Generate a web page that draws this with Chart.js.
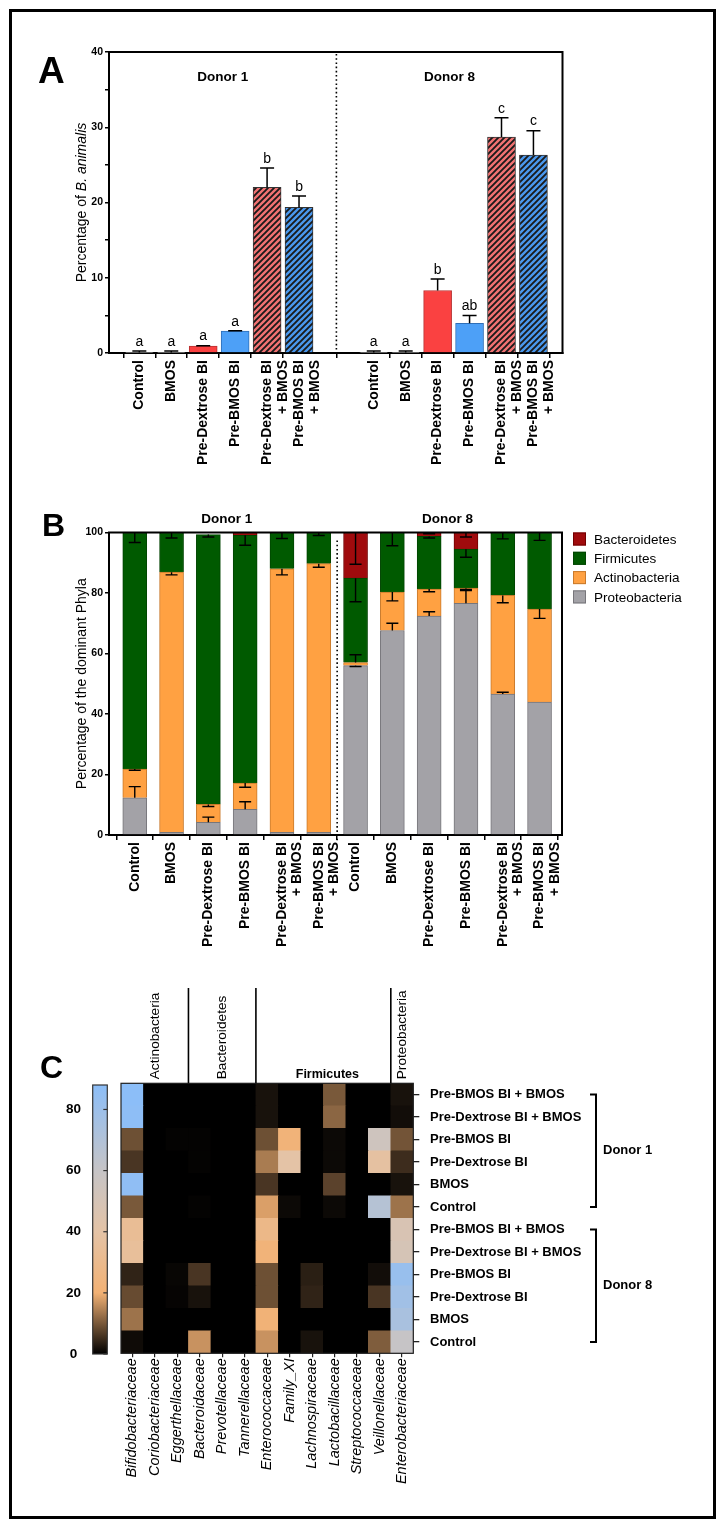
<!DOCTYPE html>
<html>
<head>
<meta charset="utf-8">
<title>B. animalis and dominant phyla</title>
<script src="https://cdn.jsdelivr.net/npm/chart.js@4.4.1/dist/chart.umd.min.js"></script>
<style>
  body { margin: 0; background: #fff; }
  #page { position: relative; width: 725px; height: 1530px; overflow: hidden; }
  #frame { position: absolute; left: 9px; top: 9px; width: 707px; height: 1510px; border: 3px solid #000; box-sizing: border-box; }
  canvas { position: absolute; left: 0; }
  .panel { position: absolute; font: bold 32px "Liberation Sans", Arial, sans-serif; line-height: 1; }
</style>
</head>
<body>
<div id="page">
  <div id="frame"></div>
  <canvas id="chartA" width="725" height="480" style="top:0"></canvas>
  <canvas id="chartB" width="725" height="500" style="top:480px"></canvas>
  <canvas id="chartC" width="725" height="570" style="top:960px"></canvas>
  <canvas id="scaleC" width="125" height="570" style="top:960px"></canvas>
  <div class="panel" style="left:38px;top:52px;font-size:37px">A</div>
  <div class="panel" style="left:42px;top:509px">B</div>
  <div class="panel" style="left:40px;top:1051px">C</div>
</div>
<script>
const FONT = '"Liberation Sans", Arial, sans-serif';

// ---- data ----
const DONORS = ['Donor 1', 'Donor 8'];
const TREATMENTS = ['Control', 'BMOS', 'Pre-Dextrose BI', 'Pre-BMOS BI',
  ['Pre-Dextrose BI', '+ BMOS'], ['Pre-BMOS BI', '+ BMOS']];

// panel A: percentage of B. animalis (mean, sd, letters)
const ANIMALIS_D1 = [0.05, 0.05, 0.93, 2.9, 22.0, 19.35];
const ANIMALIS_D8 = [0.05, 0.05, 8.3, 3.95, 28.7, 26.3];
const SD_D1 = [0.2, 0.2, 0.05, 0.05, 2.6, 1.5];
const SD_D8 = [0.2, 0.2, 1.55, 1.05, 2.55, 3.25];
const LETTERS_D1 = ['a', 'a', 'a', 'a', 'b', 'b'];
const LETTERS_D8 = ['a', 'a', 'b', 'ab', 'c', 'c'];
const A_MAX = 40, A_STEP = 10;

// panel B: dominant phyla, stacked bottom -> top (D1 x6, D8 x6)
const PROTEO  = [12.3, 0.9, 4.2, 8.5, 0.9, 0.9, 56.0, 67.6, 72.4, 76.6, 46.6, 43.9];
const ACTINO  = [9.5, 86.0, 5.9, 8.7, 87.1, 88.8, 1.0, 12.7, 8.9, 5.0, 32.6, 30.8];
const FIRMI   = [78.2, 13.1, 89.2, 81.9, 12.0, 10.3, 27.9, 19.7, 17.4, 12.9, 20.8, 25.3];
const BACTERO = [0, 0, 0, 0.9, 0, 0, 15.1, 0, 1.3, 5.5, 0, 0];
const PROTEO_ERR  = [3.7, 0, 1.7, 2.5, 0, 0, -0.3, 2.4, 1.4, 4.2, 0.6, 0];
const ACTINO_ERR  = [-0.4, -0.9, -0.7, -1.4, -2.0, -1.2, 2.6, -2.9, -0.9, -0.4, -2.4, -3.1];
const FIRMI_ERR   = [-3.3, -1.8, -0.8, -3.3, -2.0, -1.0, -7.8, -4.4, -0.5, -2.7, -2.1, -2.6];
const BACTERO_ERR = [0, 0, 0, 0, 0, 0, -10.5, 0, -0.4, -1.5, 0, 0];
const B_MAX = 100, B_STEP = 20;

// panel C: heatmap of families, rows top -> bottom
const FAMILIES = ['Bifidobacteriaceae', 'Coriobacteriaceae', 'Eggerthellaceae', 'Bacteroidaceae',
  'Prevotellaceae', 'Tannerellaceae', 'Enterococcaceae', 'Family_XI', 'Lachnospiraceae',
  'Lactobacillaceae', 'Streptococcaceae', 'Veillonellaceae', 'Enterobacteriaceae'];
const PHYLUM_GROUPS = [['Actinobacteria', 3], ['Bacteroidetes', 3], ['Firmicutes', 6], ['Proteobacteria', 1]];
const HEAT_ROWS = ['Pre-BMOS BI + BMOS', 'Pre-Dextrose BI + BMOS', 'Pre-BMOS BI', 'Pre-Dextrose BI', 'BMOS', 'Control',
  'Pre-BMOS BI + BMOS', 'Pre-Dextrose BI + BMOS', 'Pre-BMOS BI', 'Pre-Dextrose BI', 'BMOS', 'Control'];
const HEAT = [
  [88, 0, 0, 0, 0, 0, 2, 0, 0, 10, 0, 0, 2],
  [87, 0, 0, 0, 0, 0, 2, 0, 0, 11.5, 0, 0, 1.5],
  [9, 0, 0.3, 0.3, 0, 0, 9, 22, 0, 1, 0, 55, 9.5],
  [6, 0, 0, 0.3, 0, 0, 14, 40, 0, 1, 0, 38, 5],
  [86, 0, 0, 0, 0, 0, 6, 0, 0, 7.5, 0, 0, 2],
  [10, 0, 0, 0.3, 0, 0, 18, 1, 0, 1, 0, 68, 13],
  [33, 0, 0, 0, 0, 0, 28, 0, 0, 0, 0, 0, 48],
  [35, 0, 0, 0, 0, 0, 22, 0, 0, 0, 0, 0, 50],
  [4, 0, 0.7, 6, 0, 0, 9, 0, 3.5, 0, 0, 1.5, 82],
  [8.5, 0, 0.5, 2, 0, 0, 9, 0, 4, 0, 0, 6, 78],
  [13, 0, 0, 0, 0, 0, 21, 0, 0, 0, 0, 0, 74],
  [1.2, 0, 0, 16.5, 0, 0, 16.5, 0, 2, 0, 0, 10.5, 60]
];
const HEAT_MAX = 88, HEAT_STEP = 20;

// ---- styles / layout ----
const HEAT_STOPS = [[0, '#000000'], [20, '#F2B174'], [40, '#E4C3A6'], [60, '#C6C4C6'], [88, '#8CBEF8']];
const GAP_A = 1.34;               // extra slots between donors in panel A

Chart.defaults.font.family = FONT;
Chart.defaults.color = '#000';
Chart.defaults.animation = false;
Chart.defaults.plugins.legend.display = false;
Chart.defaults.plugins.tooltip.enabled = false;

const fixWidth = w => s => { s.width = w; };
const fixHeight = h => s => { s.height = h; };

function hex(c) { return [1, 3, 5].map(i => parseInt(c.slice(i, i + 2), 16)); }
function heatColor(v) {
  for (let i = 1; i < HEAT_STOPS.length; i++) {
    const [v0, c0] = HEAT_STOPS[i - 1], [v1, c1] = HEAT_STOPS[i];
    if (v <= v1 || i === HEAT_STOPS.length - 1) {
      const t = Math.min(1, Math.max(0, (v - v0) / (v1 - v0)));
      const a = hex(c0), b = hex(c1);
      return 'rgb(' + a.map((x, k) => Math.round(x + (b[k] - x) * t)).join(',') + ')';
    }
  }
}

function hatch(ctx, base) {
  const s = 6, c = document.createElement('canvas');
  c.width = s; c.height = s;
  const g = c.getContext('2d');
  g.fillStyle = base; g.fillRect(0, 0, s, s);
  g.strokeStyle = '#1a1a1a'; g.lineWidth = 1.9;
  g.beginPath();
  g.moveTo(-1, 1); g.lineTo(1, -1);
  g.moveTo(0, s); g.lineTo(s, 0);
  g.moveTo(s - 1, s + 1); g.lineTo(s + 1, s - 1);
  g.stroke();
  return ctx.createPattern(c, 'repeat');
}

function dotted(ctx, x, y0, y1) {
  ctx.save();
  ctx.strokeStyle = '#000'; ctx.lineWidth = 1.6; ctx.setLineDash([1.6, 2.6]);
  ctx.beginPath(); ctx.moveTo(x, y0); ctx.lineTo(x, y1); ctx.stroke();
  ctx.restore();
}

function boxTopRight(ctx, a) {
  ctx.save();
  ctx.strokeStyle = '#000'; ctx.lineWidth = 2;
  ctx.beginPath(); ctx.moveTo(a.left - 1, a.top); ctx.lineTo(a.right, a.top); ctx.lineTo(a.right, a.bottom + 1); ctx.stroke();
  ctx.restore();
}

function whisker(ctx, x, y0, y1, half) {
  ctx.beginPath();
  ctx.moveTo(x, y0); ctx.lineTo(x, y1);
  ctx.moveTo(x - half, y1); ctx.lineTo(x + half, y1);
  ctx.stroke();
}

function rotatedTitle(ctx, parts, cx, cy, size) {
  ctx.save();
  ctx.translate(cx, cy); ctx.rotate(-Math.PI / 2);
  let total = 0;
  parts.forEach(p => { ctx.font = (p.italic ? 'italic ' : '') + size + 'px ' + FONT; p.w = ctx.measureText(p.text).width; total += p.w; });
  let xx = -total / 2;
  ctx.textAlign = 'left'; ctx.textBaseline = 'middle'; ctx.fillStyle = '#000';
  parts.forEach(p => { ctx.font = (p.italic ? 'italic ' : '') + size + 'px ' + FONT; ctx.fillText(p.text, xx, 0); xx += p.w; });
  ctx.restore();
}

// ---- panel A ----
const ctxA = document.getElementById('chartA').getContext('2d');
const posA = [], labelsA = [], valuesA = [], sdA = [], lettersA = [];
DONORS.forEach((d, g) => TREATMENTS.forEach((t, i) => {
  posA.push(g * (TREATMENTS.length + GAP_A) + i);
  labelsA.push(t);
}));
valuesA.push(...ANIMALIS_D1, ...ANIMALIS_D8);
sdA.push(...SD_D1, ...SD_D8);
lettersA.push(...LETTERS_D1, ...LETTERS_D8);
const redHatch = hatch(ctxA, '#F27272'), blueHatch = hatch(ctxA, '#4A98EE');
const fillA = ['#8c8c8c', '#8c8c8c', '#FA4141', '#4DA0F7', redHatch, blueHatch];
const edgeA = ['#333', '#333', '#b83030', '#2f6fb8', '#333', '#333'];

const panelA = {
  id: 'panelA',
  afterDatasetsDraw(chart) {
    const { ctx, chartArea: a, scales: { x, y } } = chart;
    boxTopRight(ctx, a);
    const n = TREATMENTS.length;
    dotted(ctx, x.getPixelForValue((posA[n - 1] + posA[n]) / 2), a.top + 2, a.bottom);
    ctx.save();
    ctx.strokeStyle = '#000'; ctx.lineWidth = 1.5; ctx.fillStyle = '#000';
    ctx.font = '14px ' + FONT; ctx.textAlign = 'center'; ctx.textBaseline = 'bottom';
    valuesA.forEach((v, k) => {
      const px = x.getPixelForValue(posA[k]);
      const y1 = y.getPixelForValue(v + sdA[k]);
      whisker(ctx, px, y.getPixelForValue(v), y1, 7);
      ctx.fillText(lettersA[k], px, y1 - 2);
    });
    ctx.font = 'bold 13.5px ' + FONT; ctx.textBaseline = 'middle';
    const xd = x.getPixelForValue((posA[n - 1] + posA[n]) / 2);
    ctx.fillText(DONORS[0], (a.left + xd) / 2, 77);
    ctx.fillText(DONORS[1], (xd + a.right) / 2, 77);
    ctx.restore();
    rotatedTitle(ctx, [{ text: 'Percentage of ' }, { text: 'B. animalis', italic: true }], 82, (a.top + a.bottom) / 2, 14);
  }
};

new Chart(ctxA, {
  type: 'bar',
  data: {
    datasets: [{
      data: posA.map((p, k) => ({ x: p, y: valuesA[k] })),
      backgroundColor: posA.map((p, k) => fillA[k % TREATMENTS.length]),
      borderColor: posA.map((p, k) => edgeA[k % TREATMENTS.length]),
      borderWidth: 1,
      barThickness: 28
    }]
  },
  options: {
    responsive: false,
    layout: { padding: { left: 78, top: 52, right: 162.5, bottom: 0 } },
    scales: {
      x: {
        type: 'linear', min: -0.95, max: 13.25, offset: false,
        afterBuildTicks: s => { s.ticks = posA.map(v => ({ value: v })); },
        afterFit: fixHeight(127),
        ticks: { autoSkip: false, minRotation: 90, maxRotation: 90, padding: 2,
          callback: (v, i) => labelsA[i], font: { size: 14, weight: 'bold', lineHeight: 1.12 } },
        grid: { drawOnChartArea: false, tickLength: 5, color: '#000', lineWidth: 1.5 },
        border: { color: '#000', width: 2 }
      },
      y: {
        min: 0, max: A_MAX, afterFit: fixWidth(31),
        ticks: { stepSize: A_STEP / 2, padding: 2, callback: v => (v % A_STEP === 0 ? v : ''),
          font: { size: 10.5, weight: 'bold' } },
        grid: { drawOnChartArea: false, tickLength: 4, color: '#000', lineWidth: 1.5 },
        border: { color: '#000', width: 2 }
      }
    }
  },
  plugins: [panelA]
});

// ---- panel B ----
const posB = [], labelsB = [];
DONORS.forEach(() => TREATMENTS.forEach(t => { posB.push(posB.length); labelsB.push(t); }));
const SERIES_B = [
  { label: 'Proteobacteria', data: PROTEO, err: PROTEO_ERR, color: '#A3A2A7', edge: '#77767b' },
  { label: 'Actinobacteria', data: ACTINO, err: ACTINO_ERR, color: '#FFA142', edge: '#c97a2c' },
  { label: 'Firmicutes', data: FIRMI, err: FIRMI_ERR, color: '#005A00', edge: '#004400' },
  { label: 'Bacteroidetes', data: BACTERO, err: BACTERO_ERR, color: '#A00B0D', edge: '#700000' }
];

const panelB = {
  id: 'panelB',
  afterDatasetsDraw(chart) {
    const { ctx, chartArea: a, scales: { x, y } } = chart;
    boxTopRight(ctx, a);
    const n = TREATMENTS.length;
    dotted(ctx, x.getPixelForValue((posB[n - 1] + posB[n]) / 2), a.top + 8, a.bottom + 8);
    ctx.save();
    ctx.strokeStyle = '#000'; ctx.lineWidth = 1.4;
    posB.forEach((p, i) => {
      const px = x.getPixelForValue(p);
      let base = 0;
      SERIES_B.forEach(s => {
        base += s.data[i];
        if (s.err[i]) whisker(ctx, px, y.getPixelForValue(base), y.getPixelForValue(base + s.err[i]), 6);
      });
    });
    ctx.fillStyle = '#000'; ctx.textAlign = 'center'; ctx.textBaseline = 'middle';
    ctx.font = 'bold 13.5px ' + FONT;
    DONORS.forEach((d, g) => {
      const first = x.getPixelForValue(posB[g * n]), last = x.getPixelForValue(posB[g * n + n - 1]);
      ctx.fillText(d, (first + last) / 2, 39);
    });
    // legend, top item = top of stack
    ctx.font = '13.5px ' + FONT; ctx.textAlign = 'left';
    SERIES_B.slice().reverse().forEach((s, k) => {
      const cy = 59 + k * 19.3;
      ctx.fillStyle = s.color; ctx.fillRect(573, cy - 6.5, 13, 13);
      ctx.strokeStyle = s.edge; ctx.lineWidth = 1; ctx.strokeRect(573.5, cy - 6, 12, 12);
      ctx.fillStyle = '#000'; ctx.fillText(s.label, 594, cy + 1);
    });
    ctx.restore();
    rotatedTitle(ctx, [{ text: 'Percentage of the dominant Phyla' }], 82, (a.top + a.bottom) / 2, 14);
  }
};

new Chart(document.getElementById('chartB'), {
  type: 'bar',
  data: {
    datasets: SERIES_B.map(s => ({
      label: s.label,
      data: posB.map((p, i) => ({ x: p, y: s.data[i] })),
      backgroundColor: s.color, borderColor: s.edge, borderWidth: 1,
      barThickness: 24
    }))
  },
  options: {
    responsive: false,
    layout: { padding: { left: 78, top: 52.5, right: 163, bottom: 0 } },
    scales: {
      x: {
        type: 'linear', min: -0.7, max: 11.61, offset: false, stacked: true,
        afterBuildTicks: s => { s.ticks = posB.map(v => ({ value: v })); },
        afterFit: fixHeight(145),
        ticks: { autoSkip: false, minRotation: 90, maxRotation: 90, padding: 2,
          callback: (v, i) => labelsB[i], font: { size: 14, weight: 'bold', lineHeight: 1.12 } },
        grid: { drawOnChartArea: false, tickLength: 5, color: '#000', lineWidth: 1.5 },
        border: { color: '#000', width: 2 }
      },
      y: {
        min: 0, max: B_MAX, stacked: true, afterFit: fixWidth(31),
        ticks: { stepSize: B_STEP, padding: 2, font: { size: 10.5, weight: 'bold' } },
        grid: { drawOnChartArea: false, tickLength: 4, color: '#000', lineWidth: 1.5 },
        border: { color: '#000', width: 2 }
      }
    }
  },
  plugins: [panelB]
});

// ---- panel C: heatmap ----
const panelC = {
  id: 'panelC',
  beforeDatasetsDraw(chart) {
    // zero-valued background so the seams between cells stay black
    const { ctx, chartArea: a } = chart;
    ctx.save();
    ctx.fillStyle = HEAT_STOPS[0][1];
    ctx.fillRect(a.left, a.top, a.right - a.left, a.bottom - a.top);
    ctx.restore();
  },
  afterDatasetsDraw(chart) {
    const { ctx, chartArea: a, scales: { x, rows } } = chart;
    const w = (a.right - a.left) / FAMILIES.length;
    ctx.save();
    ctx.strokeStyle = '#222'; ctx.lineWidth = 1.2;
    ctx.strokeRect(a.left, a.top, a.right - a.left, a.bottom - a.top);
    // phylum header
    let start = 0;
    ctx.fillStyle = '#000';
    PHYLUM_GROUPS.forEach(([name, n]) => {
      if (start > 0) {
        const bx = x.getPixelForValue(start) - w / 2;
        ctx.strokeStyle = '#000'; ctx.lineWidth = 1.6;
        ctx.beginPath(); ctx.moveTo(bx, 28); ctx.lineTo(bx, a.top); ctx.stroke();
      }
      const cx = (x.getPixelForValue(start) + x.getPixelForValue(start + n - 1)) / 2;
      if (n > 3) {
        ctx.font = 'bold 12.5px ' + FONT; ctx.textAlign = 'center'; ctx.textBaseline = 'middle';
        ctx.fillText(name, cx + 4, a.top - 9);
      } else {
        ctx.save();
        ctx.translate(cx, a.top - 4); ctx.rotate(-Math.PI / 2);
        ctx.font = '13.7px ' + FONT; ctx.textAlign = 'left'; ctx.textBaseline = 'middle';
        ctx.fillText(name, 0, 0);
        ctx.restore();
      }
      start += n;
    });
    // donor brackets
    const per = TREATMENTS.length, bxr = 596;
    ctx.strokeStyle = '#000'; ctx.lineWidth = 2;
    ctx.font = 'bold 13px ' + FONT; ctx.textAlign = 'left'; ctx.textBaseline = 'middle';
    DONORS.forEach((d, g) => {
      const y0 = rows.getPixelForValue(g * per), y1 = rows.getPixelForValue(g * per + per - 1);
      ctx.beginPath();
      ctx.moveTo(bxr - 6, y0); ctx.lineTo(bxr, y0); ctx.lineTo(bxr, y1); ctx.lineTo(bxr - 6, y1);
      ctx.stroke();
      ctx.fillText(d, bxr + 7, (y0 + y1) / 2);
    });
    ctx.restore();
  }
};

new Chart(document.getElementById('chartC'), {
  type: 'bar',
  data: {
    labels: FAMILIES,
    datasets: HEAT.map((row, r) => ({
      label: HEAT_ROWS[r],
      data: FAMILIES.map(() => 1),
      backgroundColor: row.map(heatColor),
      borderWidth: 0,
      barPercentage: 1, categoryPercentage: 1
    })).reverse()
  },
  options: {
    responsive: false,
    layout: { padding: { left: 121, top: 123.3, right: 0, bottom: 0 } },
    scales: {
      x: {
        stacked: true, afterFit: fixHeight(176.7),
        ticks: { autoSkip: false, minRotation: 90, maxRotation: 90, padding: 1,
          font: { size: 14.5, style: 'italic' } },
        grid: { drawOnChartArea: false, offset: false, tickLength: 4, color: '#222', lineWidth: 1.2 },
        border: { display: false }
      },
      y: { stacked: true, min: 0, max: HEAT.length, display: false },
      rows: {
        type: 'category', labels: HEAT_ROWS, position: 'right', offset: true,
        afterFit: fixWidth(311.7),
        ticks: { autoSkip: false, padding: 10.7, font: { size: 13, weight: 'bold' } },
        grid: { drawOnChartArea: false, tickLength: 6, color: '#222', lineWidth: 1.3 },
        border: { display: false }
      }
    }
  },
  plugins: [panelC]
});

// ---- colour scale of panel C ----
function scaleGradient(chart) {
  const a = chart.chartArea;
  if (!a) return HEAT_STOPS[0][1];
  const g = chart.ctx.createLinearGradient(0, a.bottom, 0, a.top);
  HEAT_STOPS.forEach(([v, c]) => g.addColorStop(Math.min(1, v / HEAT_MAX), c));
  return g;
}
const scaleFrame = {
  id: 'scaleFrame',
  afterDatasetsDraw(chart) {
    const { ctx, chartArea: a, scales: { y } } = chart;
    ctx.save();
    ctx.strokeStyle = '#333'; ctx.lineWidth = 1.2;
    ctx.strokeRect(a.left, a.top, a.right - a.left, a.bottom - a.top);
    y.ticks.forEach(t => {
      const py = y.getPixelForValue(t.value);
      ctx.beginPath(); ctx.moveTo(a.right - 4, py); ctx.lineTo(a.right, py); ctx.stroke();
    });
    ctx.restore();
  }
};
new Chart(document.getElementById('scaleC'), {
  type: 'bar',
  data: {
    labels: [''],
    datasets: [{
      data: [HEAT_MAX],
      backgroundColor: ctx => scaleGradient(ctx.chart),
      borderWidth: 0, barPercentage: 1, categoryPercentage: 1
    }]
  },
  options: {
    responsive: false,
    layout: { padding: { left: 40, top: 125, right: 17.7, bottom: 176 } },
    scales: {
      x: { display: false },
      y: {
        min: 0, max: HEAT_MAX, afterFit: fixWidth(52.7),
        ticks: { stepSize: HEAT_STEP, includeBounds: false, crossAlign: 'center', padding: 11.7,
          callback: v => (v % HEAT_STEP === 0 ? v : ''), font: { size: 13.5, weight: 'bold' } },
        grid: { display: false, drawTicks: false },
        border: { display: false }
      }
    }
  },
  plugins: [scaleFrame]
});
</script>
</body>
</html>
